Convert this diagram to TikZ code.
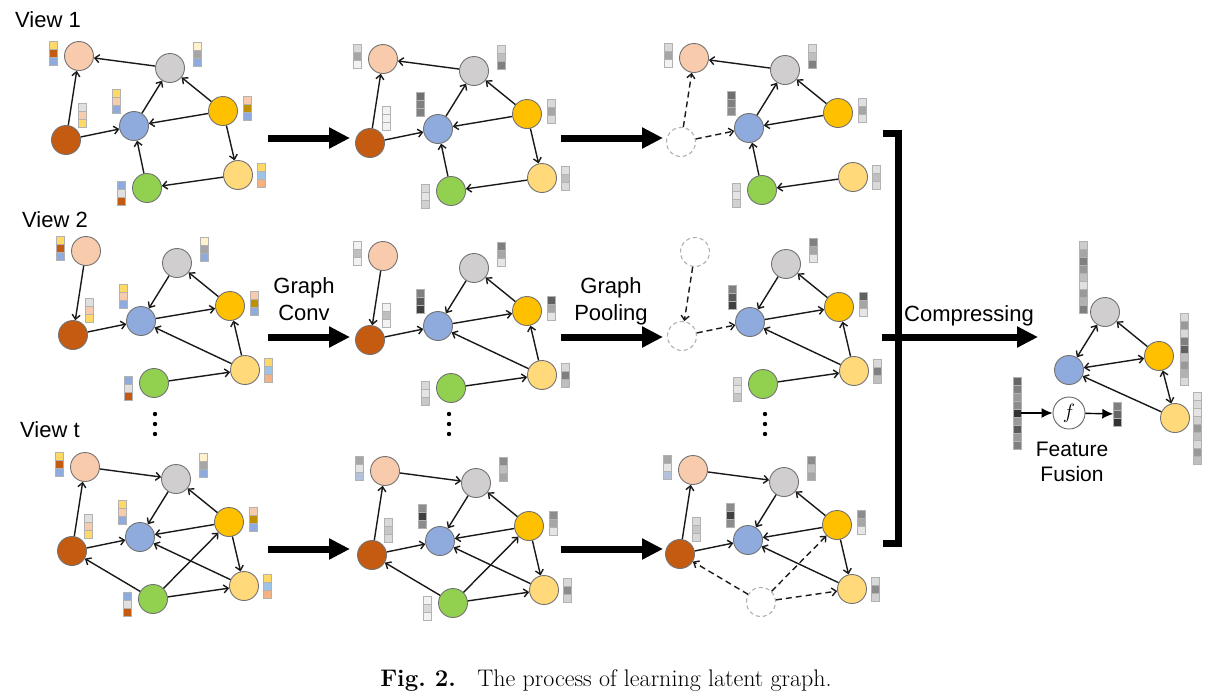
\documentclass[tikz,border=0pt]{standalone}
\usepackage{fontspec}
\newfontfamily\labelfont{Liberation Sans}
\usetikzlibrary{arrows.meta}
% node colours
\definecolor{cpeach}{HTML}{F8CBAD}
\definecolor{cgray}{HTML}{D0CECE}
\definecolor{cbrown}{HTML}{C55A11}
\definecolor{cblue}{HTML}{8FAADC}
\definecolor{cgold}{HTML}{FFC000}
\definecolor{clight}{HTML}{FFD97A}
\definecolor{cgreen}{HTML}{92D050}
% feature cell colours
\definecolor{vye}{HTML}{FFD966}
\definecolor{vbr}{HTML}{C55A11}
\definecolor{vbl}{HTML}{8FAADC}
\definecolor{vcr}{HTML}{FFF2CC}
\definecolor{vgy}{HTML}{A6A6A6}
\definecolor{vlg}{HTML}{E0E0E0}
\definecolor{vpk}{HTML}{F8CBAD}
\definecolor{vgd}{HTML}{BF9000}
\definecolor{vlb}{HTML}{9DC3E6}
\definecolor{vsa}{HTML}{F4B183}
\definecolor{vbg}{HTML}{B4C2DC}
\tikzset{
  >={Straight Barb[length=4.5pt,width=8pt]},
  vertex/.style={circle,draw=black!55,line width=0.9pt,minimum size=29pt,inner sep=0pt},
  node pk/.style={vertex,fill=cpeach},
  node gy/.style={vertex,fill=cgray},
  node br/.style={vertex,fill=cbrown},
  node bl/.style={vertex,fill=cblue},
  node au/.style={vertex,fill=cgold},
  node ly/.style={vertex,fill=clight},
  node gn/.style={vertex,fill=cgreen},
  ghost/.style={vertex,draw=black!30,fill=white,line width=1.1pt,dash pattern=on 4pt off 3pt},
  link/.style={->,line width=1.4pt,black!90},
  ghost link/.style={link,dash pattern=on 6pt off 4pt},
  vcell/.style={draw=black!30,line width=0.7pt},
  flow/.style={line width=7pt,-{Triangle[length=21pt,width=20pt]}},
  fuse/.style={line width=1.4pt,-{Latex[length=11pt,width=10pt]}},
  txt/.style={font=\labelfont\fontsize{22}{27}\selectfont,inner sep=0pt}
}
% the seven nodes of one view, with the top of their feature vectors
\newcommand\graphnodes[1]{%
  \foreach \n/\x/\y/\vx/\vy in {pk/79/56/53/41, gy/170/68/197/42, br/66/140/82/103,
      bl/134/126/116/89, au/223/111/247/96, ly/238/175/261/163, gn/147/188/121/181}{
    \node[node \n] (#1\n) at (\x,\y) {};
    \coordinate (#1\n-v) at (\vx,\vy);
  }}
% one feature vector, cells listed top to bottom
\newcommand\fvec[2]{%
  \if\relax\detokenize{#2}\relax\else
  \foreach \col [count=\i] in {#2}{
    \draw[vcell,fill=\col] (#1) ++(-4,{(\i-1)*8}) rectangle ++(8,8);
  }\fi}
\newcommand\vecs[8]{\fvec{#1pk-v}{#2}\fvec{#1gy-v}{#3}\fvec{#1br-v}{#4}%
  \fvec{#1bl-v}{#5}\fvec{#1au-v}{#6}\fvec{#1ly-v}{#7}\fvec{#1gn-v}{#8}}
\newcommand\links[3][link]{\foreach \s/\t in {#3}{\draw[#1] (#2\s) -- (#2\t);}}

\begin{document}
\begin{tikzpicture}[x=1pt,y=-1pt]
\fill[white] (0,0) rectangle (1211,697);
\useasboundingbox (0,0) rectangle (1211,697);

% views
\graphnodes{a1}
\begin{scope}[shift={(304,3)}] \graphnodes{a2} \end{scope}
\begin{scope}[shift={(615,2)},node br/.style={ghost}] \graphnodes{a3} \end{scope}
\begin{scope}[shift={(7,195)}] \graphnodes{b1} \end{scope}
\begin{scope}[shift={(304,200)}] \graphnodes{b2} \end{scope}
\begin{scope}[shift={(616,196)},node pk/.style={ghost},node br/.style={ghost}] \graphnodes{b3} \end{scope}
\begin{scope}[shift={(6,411)}] \graphnodes{c1} \end{scope}
\begin{scope}[shift={(306,415)}] \graphnodes{c2} \end{scope}
\begin{scope}[shift={(614,414)},node gn/.style={ghost}] \graphnodes{c3} \end{scope}

\foreach \rw in {a1,a2}{\links{\rw}{gy/pk, br/pk, br/bl, bl/gy, au/gy, au/bl, au/ly, ly/gn, gn/bl}}
\links{a3}{gy/pk, bl/gy, au/gy, au/bl, ly/gn, gn/bl}
\links[ghost link]{a3}{br/pk, br/bl}
\foreach \rw in {b1,b2}{\links{\rw}{pk/br, gy/bl, au/gy, br/bl, bl/au, ly/bl, ly/au, gn/ly}}
\links{b3}{gy/bl, au/gy, bl/au, ly/bl, ly/au, gn/ly}
\links[ghost link]{b3}{pk/br, br/bl}
\foreach \rw in {c1,c2}{\links{\rw}{pk/gy, br/pk, gy/bl, au/gy, au/bl, br/bl, au/ly, ly/bl, gn/br, gn/au, gn/ly}}
\links{c3}{pk/gy, br/pk, gy/bl, au/gy, au/bl, br/bl, au/ly, ly/bl}
\links[ghost link]{c3}{gn/br, gn/au, gn/ly}

% feature vectors
\foreach \rw in {a1,b1,c1}{%
  \vecs{\rw}{vye,vbr,vbl}{vcr,vgy,vbl}{vlg,vpk,vye}{vye,vpk,vbl}{vpk,vgd,vbl}{vye,vlb,vsa}{vbl,vlg,vbr}}
\vecs{a2}{black!15,black!35,black!5}{black!15,black!25,black!50}{black!5,black!5,black!5}{black!56,black!50,black!50}{black!15,black!35,black!15}{black!12,black!25,black!15}{black!15,black!10,black!18}
\vecs{a3}{black!15,black!35,black!5}{black!15,black!25,black!50}{}{black!56,black!50,black!45}{black!12,black!35,black!12}{black!12,black!25,black!15}{black!15,black!10,black!18}
\vecs{b2}{black!5,black!25,black!5}{black!50,black!35,black!10}{black!5,black!25,black!5}{black!50,black!65,black!75}{black!62,black!35,black!10}{black!15,black!50,black!25}{black!15,black!10,black!22}
\vecs{b3}{}{black!50,black!35,black!10}{}{black!50,black!65,black!75}{black!62,black!35,black!10}{black!15,black!50,black!25}{black!15,black!10,black!22}
\vecs{c2}{black!35,black!10,vbg}{black!45,black!25,black!35}{black!15,black!22,black!15}{black!45,black!75,black!45}{black!45,black!35,black!10}{black!15,black!45,black!18}{black!5,black!15,black!5}
\vecs{c3}{black!35,black!10,vbg}{black!45,black!25,black!35}{black!15,black!22,black!15}{black!45,black!75,black!45}{black!45,black!35,black!10}{black!15,black!45,black!18}{}

% vertical dots
\foreach \x in {155,449,765}{\foreach \y in {414,424,434}{\fill (\x,\y) circle (2.2);}}

% labels
\node[txt,anchor=base west] (v1) at (15,27) {View 1};
\node[txt,anchor=base west] (v2) at (22,227) {View 2};
\node[txt,anchor=base west] (vt) at (20,437) {View t};
\node[txt,align=center] (gconv) at (304,299) {Graph\\Conv};
\node[txt,align=center] (gpool) at (611,301) {Graph\\Pooling};
\node[txt,anchor=base] (comp) at (969,321) {Compressing};

% steps between the views
\foreach \rw/\y in {a/138, b/337, c/549}{
  \coordinate (\rw1e) at (268,\y); \coordinate (\rw2w) at (350,\y);
  \coordinate (\rw2e) at (561,\y); \coordinate (\rw3w) at (663,\y);
  \draw[flow] (\rw1e) -- (\rw2w);
  \draw[flow] (\rw2e) -- (\rw3w);
}
\draw[line width=7pt] (883,133) -| (898.5,543.5) -- (883,543.5);
\coordinate (cin) at (882,337); \coordinate (cout) at (1038,337);
\draw[flow] (cin) -- (cout);

% latent graph
\node[node gy] (fgy) at (1105,312) {};
\node[node au] (fau) at (1159,356) {};
\node[node bl] (fbl) at (1069,370) {};
\node[node ly] (fly) at (1175,418) {};
\draw[link,<->] (fgy) -- (fbl);
\draw[link] (fau) -- (fgy);
\draw[link,<->] (fbl) -- (fau);
\draw[link,<->] (fau) -- (fly);
\draw[link] (fly) -- (fbl);
\coordinate (fgy-v) at (1083,241); \coordinate (fau-v) at (1184,313); \coordinate (fly-v) at (1197.5,392);
\fvec{fgy-v}{black!20,black!35,black!50,black!40,black!25,black!12,black!40,black!30,black!50}
\fvec{fau-v}{black!15,black!40,black!15,black!50,black!62,black!25,black!40,black!30,black!15}
\fvec{fly-v}{black!10,black!15,black!10,black!18,black!40,black!25,black!15,black!40,black!25}

% feature fusion
\coordinate (fin-v) at (1017,377); \coordinate (fout-v) at (1117.5,402);
\fvec{fin-v}{black!60,black!50,black!40,black!45,black!80,black!40,black!65,black!40,black!50}
\fvec{fout-v}{black!50,black!60,black!80}
\node[inner sep=0pt,minimum width=8pt,minimum height=72pt] (fin) at (1017,413) {};
\node[inner sep=0pt,minimum width=8pt,minimum height=24pt] (fout) at (1117.5,414) {};
\node[circle,draw=black!60,line width=0.9pt,minimum size=32pt,inner sep=0pt] (fx) at (1069,413) {\fontsize{20}{20}\selectfont$f$};
\draw[fuse] (fin) -- (fx);
\draw[fuse] (fx) -- (fout);
\node[txt,align=center,font=\labelfont\fontsize{21}{25}\selectfont] (ff) at (1072,462) {Feature\\Fusion};

% caption
\node[anchor=base,inner sep=0pt,font=\fontsize{24}{28}\selectfont] (cap) at (606,686)
  {\frenchspacing\textbf{Fig. 2.}\hspace{0.6em} The process of learning latent graph.};
\end{tikzpicture}
\end{document}
